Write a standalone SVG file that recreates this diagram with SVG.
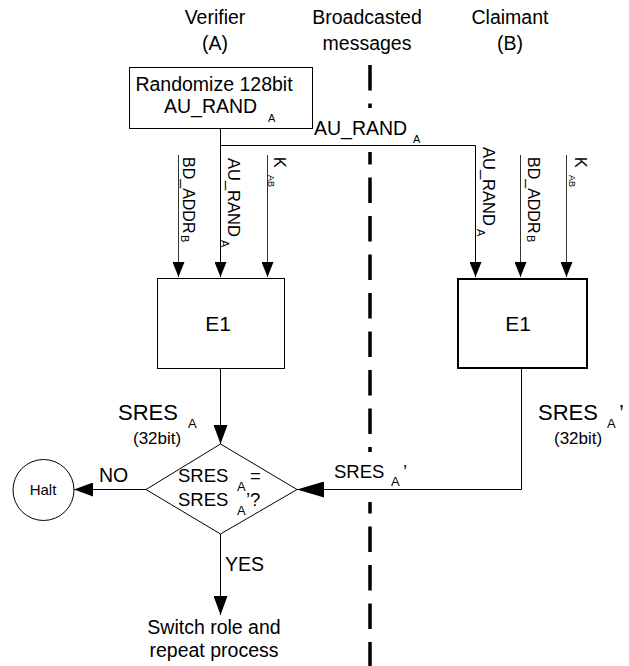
<svg xmlns="http://www.w3.org/2000/svg" width="629" height="666" viewBox="0 0 629 666">
<style>
text{font-family:"Liberation Sans",Arial,sans-serif;fill:#000}
.t{font-size:19.5px}
.c{text-anchor:middle}
.big{font-size:22px}
.sub{font-size:13px}
.ssub{font-size:11px}
.rot{font-size:16px}
.ln{fill:none;stroke:#000;stroke-width:1}
.lg{fill:none;stroke:#333;stroke-width:1}
.box{fill:#fff;stroke:#000;stroke-width:1}
.div{fill:none;stroke:#000;stroke-width:3.5;stroke-dasharray:25.5 13}
</style>
<defs>
<marker id="ah" viewBox="0 0 15 12" refX="15" refY="6" markerWidth="15" markerHeight="12" markerUnits="userSpaceOnUse" orient="auto"><path d="M0,0 L15,6 L0,12 z" fill="#000"/></marker>
<marker id="am" viewBox="0 0 19 14" refX="19" refY="7" markerWidth="19" markerHeight="14" markerUnits="userSpaceOnUse" orient="auto"><path d="M0,0 L19,7 L0,14 z" fill="#000"/></marker>
<marker id="al" viewBox="0 0 27 16" refX="27" refY="8" markerWidth="27" markerHeight="16" markerUnits="userSpaceOnUse" orient="auto"><path d="M0,0 L27,8 L0,16 z" fill="#000"/></marker>
</defs>
<rect width="629" height="666" fill="#fff"/>

<g id="headers">
<text class="t c" x="215" y="24">Verifier</text>
<text class="t c" x="215" y="50">(A)</text>
<text class="t c" x="367" y="24">Broadcasted</text>
<text class="t c" x="367" y="50">messages</text>
<text class="t c" x="510" y="24">Claimant</text>
<text class="t c" x="510" y="50">(B)</text>
</g>

<g id="divider">
<path class="div" d="M370,65 V108"/>
<path class="div" d="M370,152 V452" stroke-dashoffset="13"/>
<path class="div" d="M370,502 V666" stroke-dashoffset="14"/>
</g>

<g id="connectors">
<path class="ln" d="M220.5,128 V277" marker-end="url(#ah)"/>
<path class="ln" d="M220.5,145.5 H475.5 V277" marker-end="url(#ah)"/>
<path class="lg" d="M178.5,155 V277" marker-end="url(#ah)"/>
<path class="lg" d="M267.5,155 V277" marker-end="url(#ah)"/>
<path class="lg" d="M520.5,155 V277" marker-end="url(#ah)"/>
<path class="lg" d="M566.5,155 V277" marker-end="url(#ah)"/>
<path class="ln" d="M220.5,368 V444" marker-end="url(#am)"/>
<path class="ln" d="M521.5,369 V489.5 H297" marker-end="url(#al)"/>
<path class="ln" d="M146,489.5 H74" marker-end="url(#am)"/>
<path class="ln" d="M220.5,534 V615" marker-end="url(#am)"/>
</g>

<g id="connector-labels">
<text class="t" x="314" y="135">AU_RAND</text><text class="ssub" x="413" y="143">A</text>
<g transform="translate(183,157) rotate(90)"><text class="rot" x="0" y="0">BD_ADDR</text><text class="ssub" x="78" y="2">B</text></g>
<g transform="translate(228,158) rotate(90)"><text class="rot" x="0" y="0" style="font-size:16.5px">AU_RAND</text><text class="ssub" x="82" y="7">A</text></g>
<g transform="translate(274,157) rotate(90)"><text class="rot" x="0" y="0">K</text><text class="ssub" x="18" y="6" style="font-size:9px">AB</text></g>
<g transform="translate(483,147) rotate(90)"><text class="rot" x="0" y="0" style="font-size:16.5px">AU_RAND</text><text class="ssub" x="82" y="6">A</text></g>
<g transform="translate(528,157) rotate(90)"><text class="rot" x="0" y="0">BD_ADDR</text><text class="ssub" x="78" y="1">B</text></g>
<g transform="translate(575,157) rotate(90)"><text class="rot" x="0" y="0">K</text><text class="ssub" x="18" y="6" style="font-size:9px">AB</text></g>
<text class="big" x="118" y="420">SRES</text><text class="sub" x="188" y="428">A</text>
<text style="font-size:17px" x="133" y="444">(32bit)</text>
<text class="big" x="538" y="420">SRES</text><text class="sub" x="607" y="428">A</text><text class="big" x="619" y="420">’</text>
<text style="font-size:17px" x="554" y="444">(32bit)</text>
<text style="font-size:18.5px" x="334" y="478">SRES</text><text class="sub" x="391" y="486">A</text><text style="font-size:18.5px" x="403" y="478">’</text>
<text class="t" x="99" y="482">NO</text>
<text class="t" x="225" y="571">YES</text>
</g>

<g id="randomize">
<rect class="box" x="129.5" y="67.5" width="183" height="61"/>
<text class="t c" x="214" y="91">Randomize 128bit</text>
<text class="t" x="164" y="113">AU_RAND</text><text class="ssub" x="268" y="122">A</text>
</g>

<g id="e1-verifier">
<rect class="box" x="157.5" y="278.5" width="127" height="90"/>
<text class="c" style="font-size:21px" x="218" y="331">E1</text>
</g>

<g id="e1-claimant">
<rect class="box" x="458" y="279" width="129" height="89" style="stroke-width:2"/>
<text class="c" style="font-size:21px" x="518" y="331">E1</text>
</g>

<g id="compare">
<path class="box" d="M220.5,444 L297,489.5 L220.5,534 L146,489.5 Z"/>
<text style="font-size:18.5px" x="178" y="482">SRES</text><text class="sub" x="237" y="491">A</text><text style="font-size:18.5px" x="250" y="482">=</text>
<text style="font-size:18.5px" x="178" y="506">SRES</text><text class="sub" x="237" y="515">A</text><text style="font-size:18.5px" x="246" y="506">’?</text>
</g>

<g id="halt">
<circle cx="43.5" cy="490" r="30.5" fill="#fff" stroke="#000" stroke-width="1"/>
<text class="c" style="font-size:15px" x="43" y="495">Halt</text>
</g>

<g id="switch">
<text class="t c" x="214" y="634">Switch role and</text>
<text class="t c" x="214" y="657">repeat process</text>
</g>
</svg>
